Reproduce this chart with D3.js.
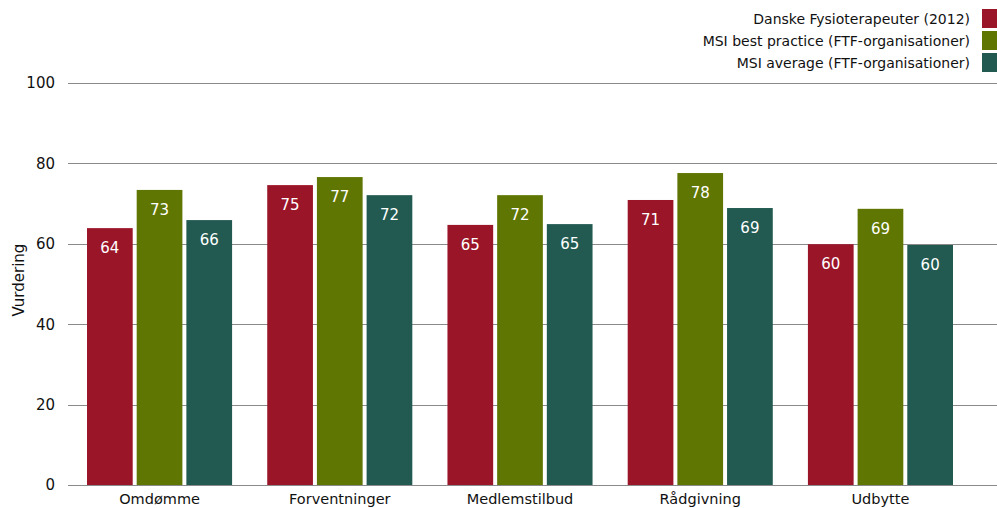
<!DOCTYPE html>
<html><head><meta charset="utf-8">
<script src="https://cdn.jsdelivr.net/npm/d3@7"></script>
<style>body{margin:0;background:#fff;} svg{display:block;font-family:"DejaVu Sans",Verdana,sans-serif;}</style>
</head><body>
<svg id="c" width="997" height="508"></svg>
<script>
const categories = ["Omdømme","Forventninger","Medlemstilbud","Rådgivning","Udbytte"];
const seriesNames = ["Danske Fysioterapeuter (2012)","MSI best practice (FTF-organisationer)","MSI average (FTF-organisationer)"];
const seriesColors = ["#9b1528","#5f7603","#225a51"];
const danske = [63.9, 74.6, 64.7, 70.9, 59.9];
const best = [73.4, 76.6, 72.1, 77.6, 68.7];
const average = [65.9, 72.1, 64.9, 68.9, 59.7];
const yTicks = [0,20,40,60,80,100];
const yLabel = "Vurdering";

(function(){
const series = [danske, best, average];
const svg = d3.select("#c");
const mLeft = 68, mRight = 997, mTop = 83, mBottom = 485;
const FONT = '"DejaVu Sans",Verdana,sans-serif';

const y = d3.scaleLinear().domain([0,100]).range([mBottom, mTop]);
const x0 = d3.scaleBand().domain(categories).range([87, 953]).paddingInner(0.195).paddingOuter(0);
const x1 = d3.scaleBand().domain(d3.range(3)).range([0, x0.bandwidth()]).paddingInner(0.08);

svg.append("g").selectAll("line").data(yTicks).join("line")
  .attr("x1", mLeft).attr("x2", mRight)
  .attr("y1", d => Math.round(y(d)) + 0.5).attr("y2", d => Math.round(y(d)) + 0.5)
  .attr("stroke", "#8a8a8a").attr("stroke-width", 1);

const yAxis = d3.axisLeft(y).tickValues(yTicks).tickSize(0).tickPadding(0);
const ga = svg.append("g").attr("transform", `translate(${mLeft-13},0)`).call(yAxis);
ga.select(".domain").remove();
ga.selectAll("text").attr("font-size", 15).attr("fill", "#111").attr("font-family", FONT);

svg.append("text").attr("transform", `translate(24,${(mTop+mBottom)/2-4}) rotate(-90)`)
  .attr("text-anchor", "middle").attr("font-size", 15).attr("fill", "#111").text(yLabel);

const groups = svg.append("g").selectAll("g").data(categories).join("g")
  .attr("transform", d => `translate(${x0(d)},0)`);
groups.selectAll("rect").data((d,i) => series.map((s,j) => ({j, v: s[i]}))).join("rect")
  .attr("x", d => x1(d.j)).attr("width", x1.bandwidth())
  .attr("y", d => y(d.v)).attr("height", d => y(0) - y(d.v))
  .attr("fill", d => seriesColors[d.j]);
groups.selectAll("text").data((d,i) => series.map((s,j) => ({j, v: s[i]}))).join("text")
  .attr("x", d => x1(d.j) + x1.bandwidth()/2).attr("y", d => y(d.v) + 25)
  .attr("text-anchor", "middle").attr("font-size", 15).attr("fill", "#fff")
  .text(d => Math.round(d.v));

svg.append("line").attr("x1", mLeft).attr("x2", mRight).attr("y1", mBottom+0.5).attr("y2", mBottom+0.5).attr("stroke", "#8a8a8a");
const xAxis = d3.axisBottom(x0).tickSize(0).tickPadding(0);
const gx = svg.append("g").attr("transform", `translate(0,${mBottom+9})`).call(xAxis);
gx.select(".domain").remove();
gx.selectAll("text").attr("font-size", 14.5).attr("fill", "#111").attr("font-family", FONT).attr("dy", "0.71em");

const lg = svg.append("g").selectAll("g").data(seriesNames).join("g")
  .attr("transform", (d,i) => `translate(0,${9 + i*22})`);
lg.append("rect").attr("x", 982).attr("y", 0).attr("width", 16).attr("height", 19)
  .attr("fill", (d,i) => seriesColors[i]);
lg.append("text").attr("x", 970).attr("y", 15).attr("text-anchor", "end")
  .attr("font-size", 14).attr("fill", "#111").text(d => d);
})();
</script>
</body></html>
